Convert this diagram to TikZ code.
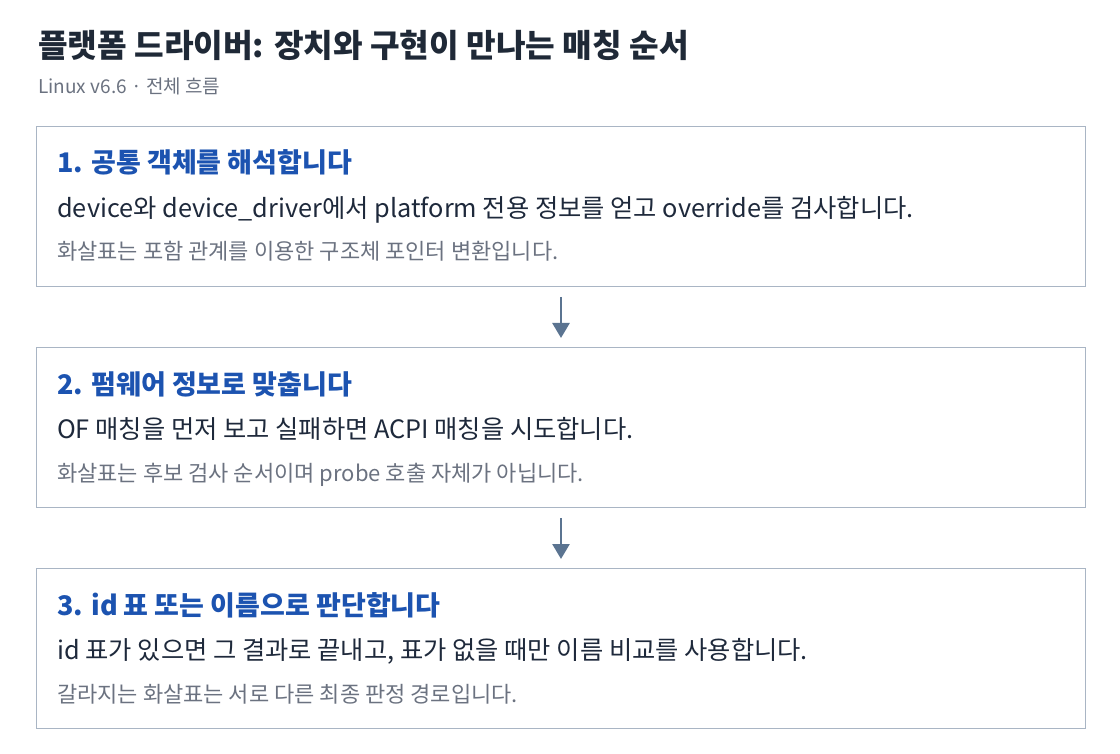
\documentclass[tikz,border=0pt]{standalone}
\usepackage{fontspec}
\setmainfont{Noto Sans CJK KR}
\usetikzlibrary{positioning,arrows.meta}

\definecolor{titleink}{HTML}{1F2937}
\definecolor{subink}{HTML}{6B7280}
\definecolor{headblue}{HTML}{1C53B0}
\definecolor{bodyink}{HTML}{1E293B}
\definecolor{noteink}{HTML}{6B7280}
\definecolor{boxline}{HTML}{A9B5C4}
\definecolor{flowink}{HTML}{5B7491}

\tikzset{
  stepbox/.style={draw=boxline, line width=1pt, minimum width=1049pt,
    minimum height=160pt, inner sep=0pt},
  headtxt/.style={anchor=base west, inner sep=0pt, text=headblue,
    font=\bfseries\fontsize{27}{31}\selectfont},
  bodytxt/.style={anchor=base west, inner sep=0pt, text=bodyink,
    font=\fontsize{25.3}{30}\selectfont},
  notetxt/.style={anchor=base west, inner sep=0pt, text=noteink,
    font=\fontsize{22}{26}\selectfont},
  flow/.style={draw=flowink, line width=2.7pt, shorten <=10pt, shorten >=9pt,
    -{Triangle[width=17pt,length=15pt]}}
}

\begin{document}
\begin{tikzpicture}[x=1pt,y=-1pt]
  \useasboundingbox (0,0) rectangle (1120,754);

  \node (title) [anchor=base west, inner sep=0pt, text=titleink,
    font=\bfseries\fontsize{32.2}{36}\selectfont] at (38,57.5)
    {플랫폼 드라이버: 장치와 구현이 만나는 매칭 순서};
  \node (sub) [anchor=base west, inner sep=0pt, text=subink,
    font=\fontsize{19}{22}\selectfont] at (38,94) {Linux v6.6 · 전체 흐름};

  % three steps, top to bottom
  \node (s1) [stepbox, anchor=north west] at (36,126) {};
  \node (s2) [stepbox, below=60pt of s1] {};
  \node (s3) [stepbox, below=60pt of s2] {};

  \node (h1) [headtxt] at ([xshift=21pt,yshift=-47pt]s1.north west) {1. 공통 객체를 해석합니다};
  \node (b1) [bodytxt] at ([xshift=21pt,yshift=-91.5pt]s1.north west)
    {device와 device\_driver에서 platform 전용 정보를 얻고 override를 검사합니다.};
  \node (n1) [notetxt] at ([xshift=21pt,yshift=-134pt]s1.north west)
    {화살표는 포함 관계를 이용한 구조체 포인터 변환입니다.};

  \node (h2) [headtxt] at ([xshift=21pt,yshift=-47pt]s2.north west) {2. 펌웨어 정보로 맞춥니다};
  \node (b2) [bodytxt] at ([xshift=21pt,yshift=-91.5pt]s2.north west)
    {OF 매칭을 먼저 보고 실패하면 ACPI 매칭을 시도합니다.};
  \node (n2) [notetxt] at ([xshift=21pt,yshift=-134pt]s2.north west)
    {화살표는 후보 검사 순서이며 probe 호출 자체가 아닙니다.};

  \node (h3) [headtxt] at ([xshift=21pt,yshift=-47pt]s3.north west) {3. id 표 또는 이름으로 판단합니다};
  \node (b3) [bodytxt] at ([xshift=21pt,yshift=-91.5pt]s3.north west)
    {id 표가 있으면 그 결과로 끝내고, 표가 없을 때만 이름 비교를 사용합니다.};
  \node (n3) [notetxt] at ([xshift=21pt,yshift=-134pt]s3.north west)
    {갈라지는 화살표는 서로 다른 최종 판정 경로입니다.};

  \draw[flow] (s1) -- (s2);
  \draw[flow] (s2) -- (s3);
\end{tikzpicture}
\end{document}
